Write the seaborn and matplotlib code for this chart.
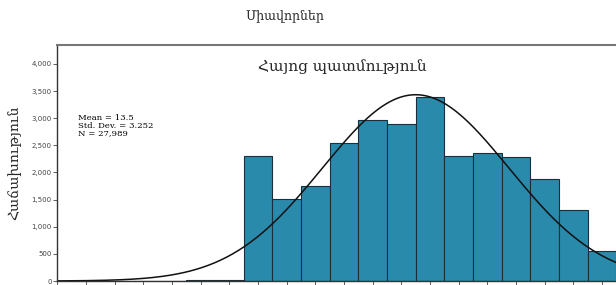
import numpy as np
import matplotlib
matplotlib.use("Agg")
import matplotlib.pyplot as plt
import seaborn as sns
from matplotlib.ticker import FuncFormatter

# scores and number of students per score
scores = [1, 2, 3, 4, 5, 6, 7, 8, 9, 10, 11, 12, 13, 14, 15, 16, 17, 18, 19, 20]
counts = [0, 2, 4, 6, 8, 10, 20, 2304, 1518, 1745, 2549, 2968, 2894, 3392,
          2298, 2366, 2286, 1886, 1309, 553]

mean_score = 13.5
std_score = 3.252
n_total = 27989

title = "Հայոց պատմություն"
xlabel_above = "Միավորներ"
ylabel = "Հաճախություն"
stats_lines = ["Mean = 13.5", "Std. Dev. = 3.252", "N = 27,989"]

sns.set_style("white")
plt.rcParams["font.family"] = ["DejaVu Serif", "DejaVu Sans"]

W, H = 616, 285
fig = plt.figure(figsize=(W / 100, H / 100), dpi=100)

# axes box: left spine at x=57, top at y=45, bottom at y=281 (pixels)
left, top, bottom = 57.3, 45, 281
px_per_unit = 28.67
x_min, x_max = 1, 22
ax_w = (x_max - x_min) * px_per_unit
ax = fig.add_axes([left / W, 1 - bottom / H, ax_w / W, (bottom - top) / H])

sns.histplot(x=scores, weights=counts, discrete=True, ax=ax,
             color="#2A8AAC", edgecolor="#1b2f3a", linewidth=0.8, alpha=1)

# fitted normal curve
xs = np.linspace(x_min, x_max, 400)
pdf = n_total / (std_score * np.sqrt(2 * np.pi)) * np.exp(-0.5 * ((xs - mean_score) / std_score) ** 2)
ax.plot(xs, pdf, color="#111111", lw=1.1)

ax.set_xlim(x_min, x_max)
ax.set_ylim(0, 4350)
ax.set_yticks(np.arange(0, 4001, 500))
ax.yaxis.set_major_formatter(FuncFormatter(lambda v, p: f"{int(v):,}"))
ax.set_xticks(np.arange(x_min, x_max + 1, 1))
ax.tick_params(axis="y", labelsize=5, labelcolor="#444444", length=3, width=0.6,
               color="#444444", pad=1, left=True, labelfontfamily="DejaVu Sans")
ax.tick_params(axis="x", length=5, width=0.6, color="#444444", bottom=True,
               labelbottom=False)
ax.set_xlabel("")
ax.set_ylabel("")

for side in ["left", "bottom"]:
    ax.spines[side].set_color("#333333")
    ax.spines[side].set_linewidth(1.0)
ax.spines["top"].set_color("#777777")
ax.spines["top"].set_linewidth(1.5)
ax.spines["right"].set_visible(False)

ax_w_px = ax_w
ax_h_px = bottom - top
ax.text((342 - left) / ax_w_px, (bottom - 67) / ax_h_px, title,
        transform=ax.transAxes, ha="center", va="center", fontsize=11)

for i, line in enumerate(stats_lines):
    ax.text((77.7 - left) / ax_w_px, (bottom - (118 + 7.8 * i)) / ax_h_px, line,
            transform=ax.transAxes, ha="left", va="center", fontsize=6.1,
            color="#000000")

fig.text(285 / W, 1 - 16 / H, xlabel_above, ha="center", va="center", fontsize=9)
fig.text(14 / W, 1 - 163 / H, ylabel, ha="center", va="center", rotation=90,
         fontsize=10)

fig.savefig("out.png", dpi=100)
